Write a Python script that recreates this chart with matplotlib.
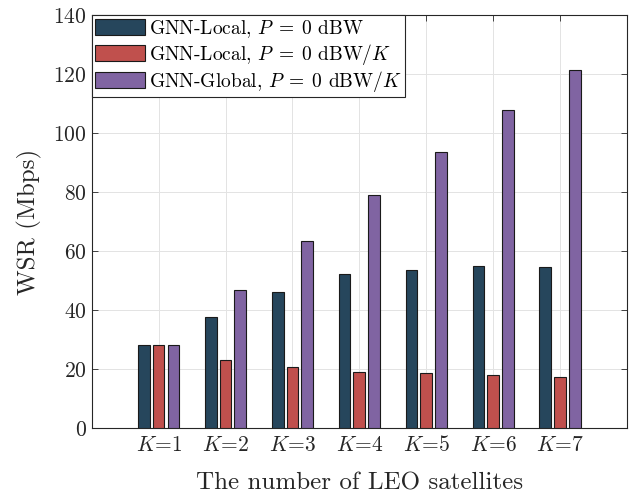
import matplotlib
matplotlib.use("Agg")
import matplotlib.pyplot as plt
import numpy as np

plt.rcParams['font.family'] = 'cmr10'
plt.rcParams['mathtext.fontset'] = 'cm'
plt.rcParams['axes.formatter.use_mathtext'] = True

categories = ['$K$=1', '$K$=2', '$K$=3', '$K$=4', '$K$=5', '$K$=6', '$K$=7']
local_total = [28.3, 37.8, 46.3, 52.2, 53.5, 55.0, 54.7]
local_per = [28.3, 23.2, 20.7, 19.1, 18.6, 18.0, 17.4]
global_per = [28.3, 46.9, 63.5, 78.9, 93.7, 107.9, 121.3]
labels = ['GNN-Local, $P\\;=\\;0$ dBW', 'GNN-Local, $P\\;=\\;0$ dBW$/K$', 'GNN-Global, $P\\;=\\;0$ dBW$/K$']
colors = ['#26465c', '#c0504d', '#8064a2']

fig = plt.figure(figsize=(6.44, 4.95), dpi=100)
ax = fig.add_axes([0.1424, 0.1347, 0.8312, 0.835])

x = np.arange(1, len(categories) + 1)
off = 0.221
w = 0.175
for i, (vals, lab, c) in enumerate(zip([local_total, local_per, global_per], labels, colors)):
    ax.bar(x + (i - 1) * off, vals, width=w, color=c, edgecolor='#1a1a1a', linewidth=0.8, label=lab, zorder=3)

ax.set_xlim(0, 8)
ax.set_ylim(0, 140)
ax.set_xticks(x)
ax.set_xticklabels(categories)
ax.set_yticks(np.arange(0, 141, 20))
ax.tick_params(direction='in', top=True, right=True, labelsize=15.5, colors='#262626', length=4, width=0.6)
ax.tick_params(axis='x', pad=5)
ax.grid(True, color='#e3e3e3', linewidth=0.7, zorder=0)
ax.set_axisbelow(True)
for s in ax.spines.values():
    s.set_color('#262626')
    s.set_linewidth(0.8)

ax.set_xlabel('The number of LEO satellites', fontsize=18, color='#262626', labelpad=12)
ax.set_ylabel('WSR (Mbps)', fontsize=18, color='#262626', labelpad=8)

leg = ax.legend(loc='upper left', fontsize=14, frameon=True, fancybox=False, edgecolor='#262626',
                framealpha=1, borderpad=0.15, handlelength=2.6, handleheight=0.9, handletextpad=0.2,
                labelspacing=0.1, borderaxespad=0.0)
leg.get_frame().set_linewidth(0.8)

fig.savefig('out.png', dpi=100)
